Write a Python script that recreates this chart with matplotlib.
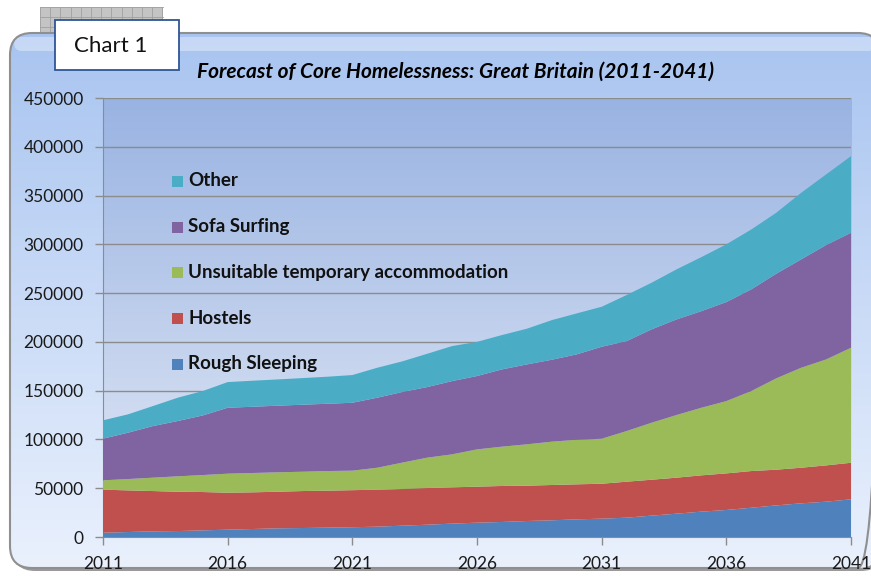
import matplotlib.pyplot as plt
import numpy as np
from matplotlib.patches import FancyBboxPatch, Rectangle

plt.rcParams["font.family"] = ["Lato", "DejaVu Sans"]

# ── data (people, annual forecast) ────────────────────────────────────────────

years = list(range(2011, 2042))

rough_sleeping = [4400, 5100, 5800, 6100, 6800, 7500, 8200, 8900, 9200, 9600,
                  10000, 10600, 11600, 12600, 13700, 14700, 15400, 16400, 17100,
                  18100, 18800, 19800, 21900, 23900, 26000, 27700, 30000, 32400,
                  34500, 36200, 38600]
hostels = [44100, 42700, 41300, 40300, 39300, 37900, 37600, 37500, 37900, 37900,
           38000, 37900, 37600, 37600, 37200, 36900, 36900, 36200, 36200, 35900,
           35800, 36900, 36800, 36900, 37200, 37500, 37600, 36600, 36500, 37200,
           37500]
unsuitable_temp = [9600, 11600, 13700, 15800, 17400, 19500, 19800, 19900, 19800,
                   20100, 20000, 22500, 27000, 31100, 33800, 38200, 40300, 42400,
                   44400, 45700, 46100, 51900, 58400, 64200, 69300, 74100, 82000,
                   93600, 102500, 108600, 117900]
sofa_surfing = [42700, 47500, 52900, 56700, 61100, 67600, 67900, 68300, 68700,
                69000, 69600, 71800, 72400, 72400, 75100, 75200, 79200, 81900,
                84000, 87500, 94300, 92200, 95700, 98000, 99000, 101500, 104200,
                107200, 111000, 117200, 117800]
other = [18800, 18800, 20500, 23900, 25000, 26300, 26700, 26900, 27300, 27700,
         28400, 30700, 31400, 34100, 35900, 35000, 35200, 36600, 40600, 42000,
         41000, 47200, 47800, 51300, 55400, 59200, 61400, 62500, 68300, 72400,
         78600]

series_labels = ["Rough Sleeping", "Hostels", "Unsuitable temporary accommodation",
                 "Sofa Surfing", "Other"]
series_colors = ["#4F81BD", "#C0504D", "#9BBB59", "#8064A2", "#4BACC6"]

x_ticks = [2011, 2016, 2021, 2026, 2031, 2036, 2041]
y_ticks = list(range(0, 450001, 50000))

W, H = 871, 579
fig = plt.figure(figsize=(W / 100, H / 100), dpi=100)
fig.patch.set_facecolor("white")


def pixel_axes(zorder):
    """Full-figure axes in pixel coords (y down)."""
    a = fig.add_axes([0, 0, 1, 1], zorder=zorder)
    a.set_xlim(0, W)
    a.set_ylim(H, 0)
    a.axis("off")
    a.patch.set_alpha(0)
    return a


def vgradient(top_rgb, bot_rgb, n=256):
    t = np.linspace(0, 1, n)[:, None, None]
    top = np.array(top_rgb)[None, None, :] / 255
    bot = np.array(bot_rgb)[None, None, :] / 255
    return np.repeat(top * (1 - t) + bot * t, 2, axis=1)


# ── background chart area ─────────────────────────────────────────────────────

bg = pixel_axes(0)

# patterned square behind the label box
bg.add_patch(Rectangle((40, 7), 123, 51, facecolor="#c4c4c4", edgecolor="none",
                       zorder=0))
for gx in np.arange(40, 164, 10.2):
    bg.plot([gx, gx], [7, 58], color="#a0a0a0", lw=0.6, zorder=0.1)
for gy in np.arange(7, 59, 10.2):
    bg.plot([40, 163], [gy, gy], color="#a0a0a0", lw=0.6, zorder=0.1)

# drop shadow + gradient-filled rounded panel
bg.add_patch(FancyBboxPatch((13, 36), 870, 535,
                            boxstyle="round,pad=0,rounding_size=22",
                            facecolor="#9a9a9a", edgecolor="none", zorder=0.5))
panel = FancyBboxPatch((10, 33), 870, 535, boxstyle="round,pad=0,rounding_size=22",
                       facecolor="none", edgecolor="#8f8f8f", lw=1.5, zorder=2)
bg.add_patch(panel)
im = bg.imshow(vgradient((168, 196, 240), (234, 241, 253)),
               extent=[10, 880, 568, 33], aspect="auto", zorder=1,
               interpolation="bilinear")
im.set_clip_path(panel)
# glossy strip along the top edge
bg.add_patch(FancyBboxPatch((14, 37), 862, 14, boxstyle="round,pad=0,rounding_size=8",
                            facecolor="white", edgecolor="none", alpha=0.35,
                            zorder=1.5))

# label box
bg.add_patch(Rectangle((55, 20), 124, 50, facecolor="white", edgecolor="#2f5597",
                       lw=1.3, zorder=3))
bg.text(111, 46, "Chart 1", fontsize=16, ha="center", va="center", zorder=4,
        color="#111111")

bg.text(455, 72, "Forecast of Core Homelessness: Great Britain (2011-2041)",
        fontsize=15, fontweight="bold", fontstyle="italic", ha="center",
        va="center", zorder=4)

# ── plot area ─────────────────────────────────────────────────────────────────

ax = fig.add_axes([103 / W, (H - 537) / H, (851 - 103) / W, (537 - 98) / H],
                  zorder=1)
ax.set_facecolor("none")
ax.imshow(vgradient((153, 179, 226), (228, 234, 246)), extent=[0, 1, 0, 1],
          transform=ax.transAxes, aspect="auto", zorder=0, interpolation="bilinear")

ax.stackplot(years, rough_sleeping, hostels, unsuitable_temp, sofa_surfing, other,
             colors=series_colors, labels=series_labels, zorder=3, lw=0)

ax.set_xlim(2011, 2041)
ax.set_ylim(0, 450000)
ax.set_xticks(x_ticks)
ax.set_yticks(y_ticks)
ax.set_yticklabels([str(v) for v in y_ticks])
ax.tick_params(axis="both", labelsize=12.5, colors="#8c8c8c", labelcolor="#1a1a1a",
               length=6, width=1, pad=8)
ax.grid(axis="y", color="#8c8c8c", lw=1, zorder=1)
ax.set_axisbelow(True)
for side in ("top", "right"):
    ax.spines[side].set_visible(False)
for side in ("left", "bottom"):
    ax.spines[side].set_color("#8c8c8c")

# ── legend (top entry = top layer), drawn over the plot ───────────────────────

lg = pixel_axes(2)
leg_y0, leg_dy = 181, 45.7
for i, (lab, col) in enumerate(zip(series_labels[::-1], series_colors[::-1])):
    cy = leg_y0 + i * leg_dy
    lg.add_patch(Rectangle((172, cy - 5), 11, 11, facecolor=col, edgecolor="none"))
    lg.text(188, cy, lab, fontsize=13.5, fontweight="bold", ha="left",
            va="center", color="#111111")

fig.savefig("out.png", dpi=100)
